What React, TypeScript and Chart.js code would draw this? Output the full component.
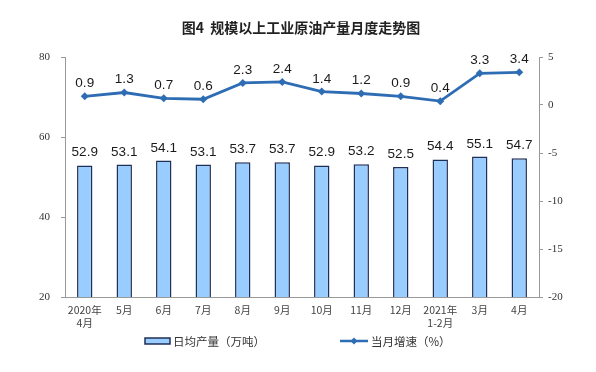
import React, { useEffect, useRef } from "react";
import { Chart, registerables } from "chart.js";

Chart.register(...registerables);

// Monthly crude oil output of industrial enterprises above designated size
const categories: (string | string[])[] = [
  ["2020年", "4月"], "5月", "6月", "7月", "8月", "9月", "10月", "11月", "12月",
  ["2021年", "1-2月"], "3月", "4月",
];
const dailyOutput = [52.9, 53.1, 54.1, 53.1, 53.7, 53.7, 52.9, 53.2, 52.5, 54.4, 55.1, 54.7];
const monthlyGrowth = [0.9, 1.3, 0.7, 0.6, 2.3, 2.4, 1.4, 1.2, 0.9, 0.4, 3.3, 3.4];

const titleText = "图4  规模以上工业原油产量月度走势图";
const barLegend = "日均产量（万吨）";
const lineLegend = "当月增速（%）";

const BAR_FILL = "#99CCFF";
const BAR_EDGE = "#1F2F55";
const LINE_COLOR = "#2E6DB4";
const CJK = '"Noto Sans CJK SC", "Noto Sans", sans-serif';

const valueLabels = {
  id: "valueLabels",
  afterDatasetsDraw(chart: Chart) {
    const ctx = chart.ctx;
    ctx.save();
    ctx.font = '13.5px "Liberation Sans", Arial, sans-serif';
    ctx.fillStyle = "#1a1a1a";
    ctx.textAlign = "center";
    ctx.textBaseline = "bottom";
    chart.data.datasets.forEach((ds, di) => {
      const meta = chart.getDatasetMeta(di);
      meta.data.forEach((el: any, i: number) => {
        const v = ds.data[i] as number;
        ctx.fillText(v.toFixed(1), el.x, el.y - 6);
      });
    });
    ctx.restore();
  },
};

const decorations = {
  id: "decorations",
  afterDraw(chart: Chart) {
    const ctx = chart.ctx;
    ctx.save();
    // title
    ctx.font = `bold 14px ${CJK}`;
    ctx.fillStyle = "#222";
    ctx.textAlign = "center";
    ctx.textBaseline = "middle";
    ctx.fillText(titleText, 301, 28);

    // legend
    const y = 341;
    ctx.font = `11.5px ${CJK}`;
    ctx.textAlign = "left";
    ctx.fillStyle = BAR_FILL;
    ctx.fillRect(145, y - 3, 25, 6);
    ctx.strokeStyle = BAR_EDGE;
    ctx.lineWidth = 1.5;
    ctx.strokeRect(145, y - 3, 25, 6);
    ctx.fillStyle = "#333";
    ctx.fillText(barLegend, 173, y + 1);

    ctx.strokeStyle = LINE_COLOR;
    ctx.lineWidth = 2.5;
    ctx.beginPath();
    ctx.moveTo(340, y);
    ctx.lineTo(368, y);
    ctx.stroke();
    ctx.fillStyle = LINE_COLOR;
    ctx.beginPath();
    ctx.moveTo(354, y - 3.5);
    ctx.lineTo(357.5, y);
    ctx.lineTo(354, y + 3.5);
    ctx.lineTo(350.5, y);
    ctx.closePath();
    ctx.fill();
    ctx.fillStyle = "#333";
    ctx.fillText(lineLegend, 371, y + 1);
    ctx.restore();
  },
};

export default function App() {
  const ref = useRef<HTMLCanvasElement>(null);

  useEffect(() => {
    if (!ref.current) return;
    const tickFont = { family: '"Liberation Serif", "Noto Sans CJK SC", serif', size: 11 };
    const chart = new Chart(ref.current, {
      type: "bar",
      data: {
        labels: categories,
        datasets: [
          {
            type: "line",
            label: lineLegend,
            data: monthlyGrowth,
            yAxisID: "y1",
            borderColor: LINE_COLOR,
            backgroundColor: LINE_COLOR,
            borderWidth: 2.8,
            pointStyle: "rectRot",
            pointRadius: 4,
            pointBorderWidth: 0,
            tension: 0,
            order: 0,
          },
          {
            type: "bar",
            label: barLegend,
            data: dailyOutput,
            yAxisID: "y",
            backgroundColor: BAR_FILL,
            borderColor: BAR_EDGE,
            borderWidth: 1.5,
            categoryPercentage: 1,
            barPercentage: 0.39,
            order: 1,
          },
        ],
      },
      options: {
        animation: false,
        responsive: false,
        layout: { padding: { top: 57, left: 0, right: 0, bottom: 0 } },
        plugins: { legend: { display: false }, title: { display: false }, tooltip: { enabled: false } },
        scales: {
          x: {
            grid: { display: true, drawOnChartArea: false, drawTicks: false, color: "#aaa" },
            border: { color: "#999" },
            ticks: {
              font: { family: CJK, size: 10.5 },
              color: "#444",
              padding: 7,
              maxRotation: 0,
              autoSkip: false,
            },
            afterFit: (s: any) => { s.height = 75; },
          },
          y: {
            position: "left",
            min: 20,
            max: 80,
            ticks: { stepSize: 20, font: tickFont, color: "#333", padding: 11 },
            grid: { drawOnChartArea: false, tickLength: 4, color: "#999" },
            border: { color: "#999" },
            afterFit: (s: any) => { s.width = 65; },
          },
          y1: {
            position: "right",
            min: -20,
            max: 5,
            ticks: { stepSize: 5, font: tickFont, color: "#333", padding: 5 },
            grid: { drawOnChartArea: false, tickLength: 4, color: "#999" },
            border: { color: "#999" },
            afterFit: (s: any) => { s.width = 57; },
          },
        },
      },
      plugins: [valueLabels, decorations],
    });
    return () => chart.destroy();
  }, []);

  return (
    <div style={{ position: "fixed", left: 0, top: 0, width: 596, height: 372, background: "#fff" }}>
      <canvas ref={ref} width={596} height={372} />
    </div>
  );
}
